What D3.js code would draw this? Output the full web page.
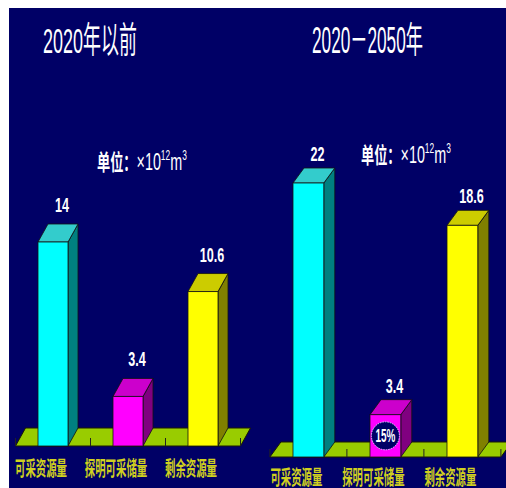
<!DOCTYPE html>
<html><head><meta charset="utf-8">
<script src="https://cdn.jsdelivr.net/npm/d3@7"></script>
<style>html,body{margin:0;padding:0;background:#fff;} svg{display:block}</style>
</head><body>
<svg id="chart" width="506" height="488"></svg>
<script>
// ---- data ----
const categories = ["可采资源量", "探明可采储量", "剩余资源量"];
const valuesBefore2020 = [14, 3.4, 10.6];
const values2020to2050 = [22, 3.4, 18.6];
const valueLabelsBefore2020 = ["14", "3.4", "10.6"];
const valueLabels2020to2050 = ["22", "3.4", "18.6"];
const panelTitles = ["2020年以前", "2020－2050年"];
const unitPrefix = "单位：";
const unitParts = ["×10", "12", "m", "3"];
const shareLabel = "15%";

// ---- styles ----
const frontColors = ["#00ffff", "#ff00ff", "#ffff00"];
const topColors = ["#33cccc", "#cc00cc", "#cccc00"];
const sideColors = ["#008080", "#800080", "#808000"];
const floorColor = "#99cc00";
const bg = "#000066";
const FONT = "'Liberation Sans', Arial, 'Noto Sans CJK SC', sans-serif";

const svg = d3.select("#chart");
svg.append("rect").attr("x", 9).attr("y", 8).attr("width", 497).attr("height", 480).attr("fill", bg);

const panels = [
  { values: valuesBefore2020, labels: valueLabelsBefore2020, title: panelTitles[0],
    xRange: [15.5, 240.5], y0: 446, yMax: 242, dx: 10, dy: 18, labelGap: 12,
    titleX: 43, titleW: 94, unitX: 97, unitY: 170, catY: 476, share: false },
  { values: values2020to2050, labels: valueLabels2020to2050, title: panelTitles[1],
    xRange: [269.9, 500.9], y0: 457, yMax: 183, dx: 11, dy: 15, labelGap: 7,
    titleX: 312, titleW: 111, unitX: 361, unitY: 163, catY: 485, share: true }
];

function fitStart(sel, x, y, width) {
  const w = sel.node().getBBox().width;
  sel.attr("transform", `translate(${x},${y}) scale(${width / w},1)`);
}

panels.forEach(p => {
  const g = svg.append("g");
  const x = d3.scaleBand().domain(categories).range(p.xRange).paddingInner(0.6).paddingOuter(0.3);
  const y = d3.scaleLinear().domain([0, d3.max(p.values)]).range([p.y0, p.yMax]);
  const bw = x.bandwidth(), step = x.step();
  const y0 = y(0);

  // floor
  const fx0 = p.xRange[0], fx1 = p.xRange[1];
  g.append("polygon")
    .attr("points", [[fx0, y0], [fx0 + p.dx, y0 - p.dy], [fx1 + p.dx, y0 - p.dy], [fx1, y0]].map(d => d.join(",")).join(" "))
    .attr("fill", floorColor).attr("stroke", "#1a1a00").attr("stroke-width", 1);
  [0, 1, 2, 3].forEach(k => {
    const tx = fx0 + k * step;
    g.append("line").attr("x1", tx).attr("x2", tx).attr("y1", y0 - 8).attr("y2", y0)
      .attr("stroke", "#222").attr("stroke-width", 1);
  });

  // bars
  categories.forEach((c, i) => {
    const v = p.values[i];
    const bx = x(c), yt = y(v);
    const bar = g.append("g");
    bar.append("polygon")
      .attr("points", [[bx + bw, yt], [bx + bw + p.dx, yt - p.dy], [bx + bw + p.dx, y0 - p.dy], [bx + bw, y0]].map(d => d.join(",")).join(" "))
      .attr("fill", sideColors[i]).attr("stroke", "#111").attr("stroke-width", 1).attr("stroke-opacity", 0.8);
    bar.append("polygon")
      .attr("points", [[bx, yt], [bx + p.dx, yt - p.dy], [bx + bw + p.dx, yt - p.dy], [bx + bw, yt]].map(d => d.join(",")).join(" "))
      .attr("fill", topColors[i]).attr("stroke", "#111").attr("stroke-width", 1).attr("stroke-opacity", 0.8);
    bar.append("rect").attr("x", bx).attr("y", yt).attr("width", bw).attr("height", y0 - yt)
      .attr("fill", frontColors[i]).attr("stroke", "#111").attr("stroke-width", 1).attr("stroke-opacity", 0.8);

    g.append("text").text(p.labels[i])
      .attr("text-anchor", "middle")
      .attr("font-family", FONT).attr("font-weight", "bold").attr("font-size", 21)
      .attr("fill", "#fff")
      .attr("transform", `translate(${bx + bw / 2 + 9},${yt - p.dy - p.labelGap}) scale(0.6,1)`);

    g.append("text").text(c)
      .attr("text-anchor", "middle")
      .attr("font-family", FONT).attr("font-weight", "bold").attr("font-size", 20)
      .attr("fill", "#d0d020")
      .attr("transform", `translate(${bx + bw / 2 - 12},${p.catY}) scale(0.52,1)`);

    if (p.share && i === 1) {
      const cx = bx + bw / 2, cy = (yt + y0) / 2;
      g.append("circle").attr("cx", cx).attr("cy", cy).attr("r", 14)
        .attr("fill", bg).attr("stroke", "#e0d0ff").attr("stroke-width", 1).attr("stroke-dasharray", "1.5,1");
      g.append("text").text(shareLabel)
        .attr("text-anchor", "middle")
        .attr("font-family", FONT).attr("font-weight", "bold").attr("font-size", 18)
        .attr("fill", "#fff")
        .attr("transform", `translate(${cx},${cy + 6.5}) scale(0.55,1)`);
    }
  });

  const t = g.append("text").text(p.title)
    .attr("font-family", FONT).attr("font-size", 36).attr("fill", "#fff");
  fitStart(t, p.titleX, 53, p.titleW);

  const u = g.append("text").attr("font-family", FONT).attr("font-size", 24).attr("fill", "#fff");
  u.append("tspan").text(unitPrefix).attr("font-weight", "bold").attr("font-size", 22);
  u.append("tspan").text(unitParts[0]);
  u.append("tspan").text(unitParts[1]).attr("font-size", 14).attr("dy", -10);
  u.append("tspan").text(unitParts[2]).attr("dy", 10);
  u.append("tspan").text(unitParts[3]).attr("font-size", 14).attr("dy", -10);
  fitStart(u, p.unitX, p.unitY, 90);
});
</script>
</body></html>
